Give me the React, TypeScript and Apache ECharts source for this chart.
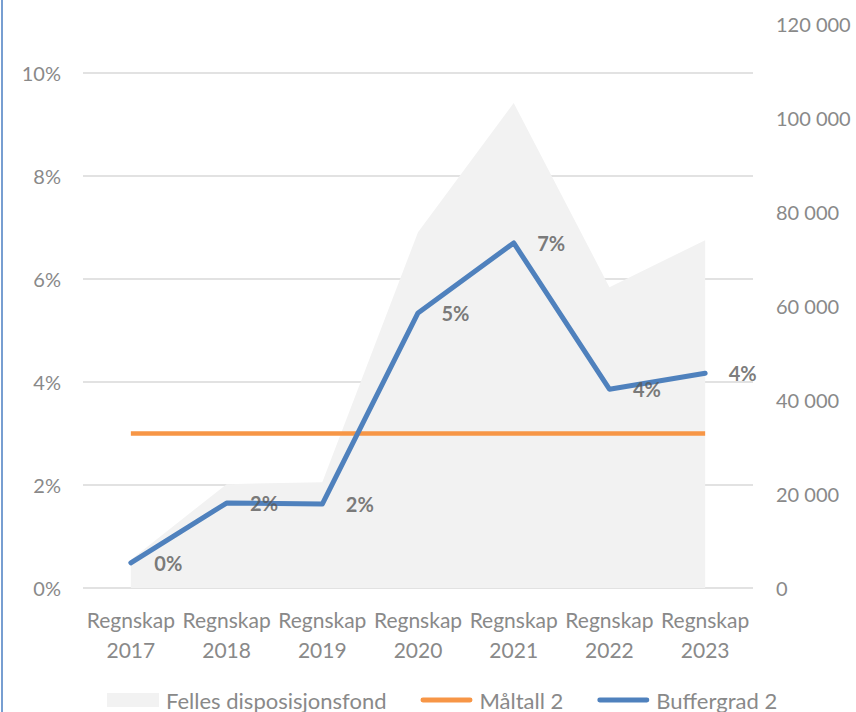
import React, { useEffect, useRef } from "react";
import * as echarts from "echarts";

const categories = [
  "Regnskap\n2017",
  "Regnskap\n2018",
  "Regnskap\n2019",
  "Regnskap\n2020",
  "Regnskap\n2021",
  "Regnskap\n2022",
  "Regnskap\n2023",
];
const fellesDisposisjonsfond = [6000, 22100, 22500, 75700, 103200, 64000, 74000];
const maltall2 = [3, 3, 3, 3, 3, 3, 3];
const buffergrad2 = [0.49, 1.65, 1.63, 5.34, 6.7, 3.86, 4.17];
const leftTicks = [0, 2, 4, 6, 8, 10];
const rightTicks = [0, 20000, 40000, 60000, 80000, 100000, 120000];

const FONT = "Lato, 'Noto Sans', sans-serif";
const AXIS_GRAY = "#898989";
const LINE_ICON =
  "path://M0,0L0.05,0L0.05,0.05Z M55.95,13.95L56,13.95L56,14Z M2.6,4.4L53.4,4.4A2.6,2.6 0 0 1 53.4,9.6L2.6,9.6A2.6,2.6 0 0 1 2.6,4.4Z";

export default function App() {
  const ref = useRef<HTMLDivElement>(null);
  useEffect(() => {
    document.body.style.margin = "0";
    if (!ref.current) return;
    const chart = echarts.init(ref.current, null, { renderer: "svg" });
    chart.setOption({
      animation: false,
      backgroundColor: "#ffffff",
      textStyle: { fontFamily: FONT },
      grid: { left: 83, right: 103, top: 24, bottom: 124, containLabel: false },
      graphic: [
        {
          type: "line",
          shape: { x1: 2, y1: 0, x2: 2, y2: 712 },
          style: { stroke: "#4a7ec2", lineWidth: 1.5 },
        },
      ],
      legend: {
        top: 684,
        left: 102,
        itemWidth: 52,
        itemHeight: 14,
        itemGap: 34,
        textStyle: { fontSize: 22, color: AXIS_GRAY, fontFamily: FONT, padding: [0, 0, 0, 2] },
        data: [
          { name: "Felles disposisjonsfond", icon: "rect", itemStyle: { color: "#f2f2f2" } },
          { name: "Måltall 2", icon: LINE_ICON, itemStyle: { color: "#f79646" } },
          { name: "Buffergrad 2", icon: LINE_ICON, itemStyle: { color: "#4f81bd" } },
        ],
      },
      xAxis: {
        type: "category",
        data: categories,
        boundaryGap: true,
        axisLine: { show: false },
        axisTick: { show: false },
        axisLabel: {
          color: AXIS_GRAY,
          fontSize: 21,
          lineHeight: 30,
          margin: 16,
          interval: 0,
          fontFamily: FONT,
        },
      },
      yAxis: [
        {
          type: "value",
          min: leftTicks[0],
          max: 10.95,
          interval: 2,
          axisLine: { show: false },
          axisTick: { show: false },
          axisLabel: {
            color: AXIS_GRAY,
            fontSize: 20,
            margin: 22,
            showMaxLabel: false,
            fontFamily: FONT,
            formatter: (v: number) => (leftTicks.includes(v) ? `${v}%` : ""),
          },
          splitLine: { show: true, showMaxLine: false, lineStyle: { color: "#d9d9d9", width: 1.5 } },
        },
        {
          type: "value",
          min: rightTicks[0],
          max: rightTicks[rightTicks.length - 1],
          interval: 20000,
          axisLine: { show: false },
          axisTick: { show: false },
          splitLine: { show: false },
          axisLabel: {
            color: AXIS_GRAY,
            fontSize: 20,
            margin: 23,
            fontFamily: FONT,
            formatter: (v: number) => String(v).replace(/\B(?=(\d{3})+(?!\d))/g, " "),
          },
        },
      ],
      series: [
        {
          name: "Felles disposisjonsfond",
          type: "line",
          yAxisIndex: 1,
          data: fellesDisposisjonsfond,
          symbol: "none",
          itemStyle: { color: "#f2f2f2" },
          lineStyle: { width: 0, color: "#f2f2f2" },
          areaStyle: { color: "#f2f2f2", opacity: 1 },
          z: 1,
        },
        {
          name: "Måltall 2",
          type: "line",
          yAxisIndex: 0,
          data: maltall2,
          symbol: "none",
          itemStyle: { color: "#f79646" },
          lineStyle: { width: 4.5, color: "#f79646" },
          z: 2,
        },
        {
          name: "Buffergrad 2",
          type: "line",
          yAxisIndex: 0,
          data: buffergrad2,
          symbol: "none",
          itemStyle: { color: "#4f81bd" },
          lineStyle: { width: 5, color: "#4f81bd", join: "round", cap: "round" },
          z: 3,
        },
        {
          name: "Buffergrad 2 etiketter",
          type: "scatter",
          yAxisIndex: 0,
          data: buffergrad2,
          symbol: "circle",
          symbolSize: 1,
          itemStyle: { color: "rgba(0,0,0,0)" },
          silent: true,
          label: {
            show: true,
            position: "right",
            distance: 23,
            fontSize: 20,
            fontWeight: "bold",
            color: "#595959",
            fontFamily: FONT,
            formatter: (p: any) => `${Math.round(p.value)}%`,
          },
          z: 4,
        },
      ],
    });
    return () => chart.dispose();
  }, []);
  return (
    <div
      ref={ref}
      style={{ position: "absolute", left: 0, top: 0, width: 856, height: 712 }}
    />
  );
}
